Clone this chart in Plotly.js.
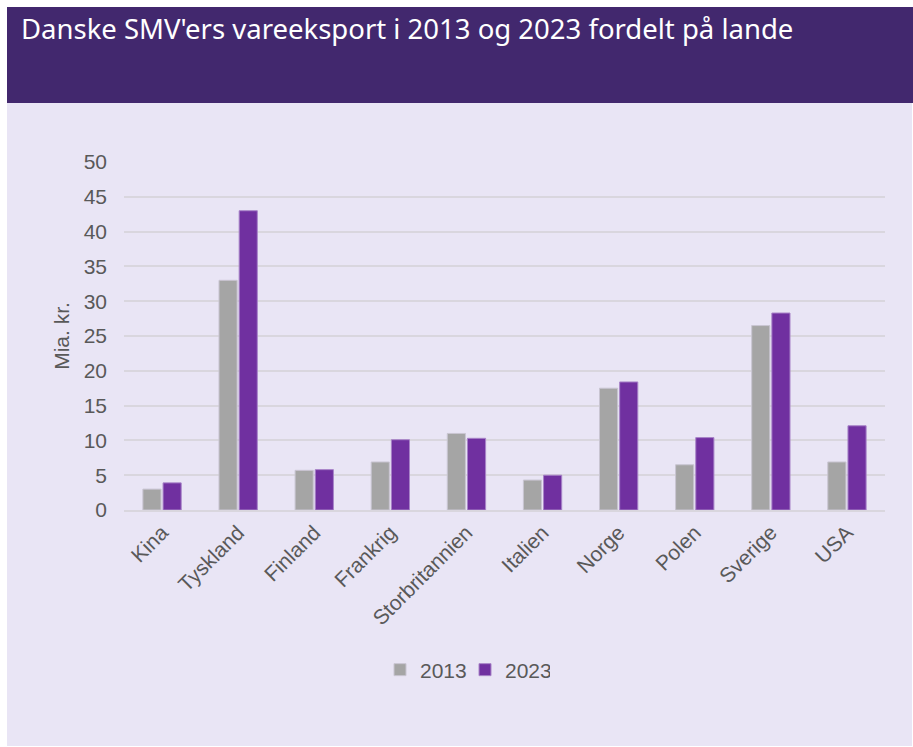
<!DOCTYPE html>
<html>
<head>
<meta charset="utf-8">
<script src="https://cdn.plot.ly/plotly-3.0.1.min.js"></script>
<style>
html,body{margin:0;padding:0;background:#ffffff;}
#chart{width:913px;height:747px;}
</style>
</head>
<body>
<div id="chart"></div>
<script>
const categories = ["Kina","Tyskland","Finland","Frankrig","Storbritannien","Italien","Norge","Polen","Sverige","USA"];
const values2013 = [3.0, 33.0, 5.7, 6.9, 11.0, 4.3, 17.5, 6.5, 26.5, 6.9];
const values2023 = [3.9, 43.0, 5.8, 10.1, 10.3, 5.0, 18.4, 10.4, 28.3, 12.1];
const seriesNames = ["2013", "2023"];
const yTicks = [0,5,10,15,20,25,30,35,40,45,50];

const W = 913, H = 747;
const mL = 124, mR = 28, mT = 162, mB = 237;
const pw = W - mL - mR, ph = H - mT - mB;
const px = x => (x - mL) / pw;
const py = y => (H - mB - y) / ph;

const traces = [
  {type:'bar', name:seriesNames[0], x:categories, y:values2013,
   marker:{color:'#a5a5a5', line:{color:'#c9c5d2', width:1}}},
  {type:'bar', name:seriesNames[1], x:categories, y:values2023,
   marker:{color:'#7030a0', line:{color:'#a884c8', width:1}}}
];

const layout = {
  width:W, height:H,
  margin:{l:mL, r:mR, t:mT, b:mB},
  paper_bgcolor:'#ffffff',
  plot_bgcolor:'rgba(0,0,0,0)',
  font:{family:'"Liberation Sans", Arial, sans-serif', color:'#595959', size:21},
  barmode:'group', bargap:0.47, bargroupgap:0.1,
  title:{text:"Danske SMV'ers vareeksport i 2013 og 2023 fordelt på lande",
         font:{family:'"Noto Sans", "Open Sans", sans-serif', size:27.5, color:'#ffffff'},
         xref:'container', x:21/W, xanchor:'left', yref:'container', y:1-29/H, yanchor:'middle'},
  shapes:[
    {type:'rect', xref:'paper', yref:'paper', layer:'below', x0:px(7), x1:px(913), y0:py(103), y1:py(7),
     fillcolor:'#42286e', line:{width:0}},
    {type:'rect', xref:'paper', yref:'paper', layer:'below', x0:px(7), x1:px(912), y0:py(746), y1:py(103),
     fillcolor:'#e9e5f5', line:{width:0}}
  ],
  xaxis:{type:'category', tickangle:-45, showgrid:false, showline:true, linecolor:'#d9d6de', linewidth:2,
         ticks:'', tickfont:{size:21, color:'#595959'}, fixedrange:true, automargin:false},
  yaxis:{range:[0,50], tickvals:yTicks, showgrid:true, gridcolor:'#d9d6de', gridwidth:2, zeroline:false,
         showline:false, ticks:'', ticklabelstandoff:16, tickfont:{size:21, color:'#595959'},
         title:{text:'Mia. kr.', font:{size:21, color:'#595959'}, standoff:8}, automargin:false},
  legend:{orientation:'h', x:px(380), xanchor:'left', y:py(670), yanchor:'middle',
          font:{size:21, color:'#595959'}, bgcolor:'rgba(0,0,0,0)', itemwidth:30, entrywidth:40},
  showlegend:true
};

Plotly.newPlot('chart', traces, layout, {displayModeBar:false, staticPlot:true});
</script>
</body>
</html>
